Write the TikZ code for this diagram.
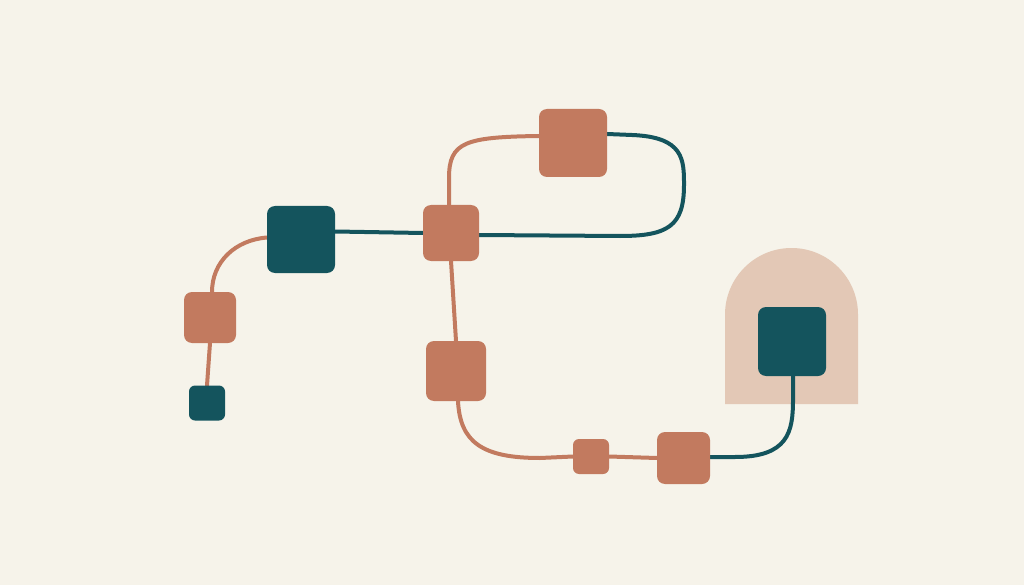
\documentclass[tikz,border=0pt]{standalone}
\usetikzlibrary{backgrounds}
\definecolor{bgc}{HTML}{F6F3EA}
\definecolor{terra}{HTML}{C27A5F}
\definecolor{tealc}{HTML}{14545D}
\definecolor{archc}{HTML}{E3C8B6}
\pgfdeclarelayer{back}
\pgfdeclarelayer{edges}
\pgfsetlayers{back,edges,main}
\tikzset{
  box/.style={rectangle, inner sep=0pt, outer sep=0pt, rounded corners=#1},
  obox/.style={box=8pt, fill=terra},
  tbox/.style={box=8pt, fill=tealc},
  ol/.style={draw=terra, line width=4pt, line cap=round},
  tl/.style={draw=tealc, line width=4pt, line cap=round},
}
\begin{document}
\begin{tikzpicture}[x=1pt,y=-1pt]
\begin{pgfonlayer}{back}
  \fill[bgc] (0,0) rectangle (1024,585);
  \fill[archc] (725,404) -- (725,314.5) .. controls (725,277.8) and (754.8,248) .. (791.5,248)
     .. controls (828.2,248) and (858,277.8) .. (858,314.5) -- (858,404) -- cycle;
\end{pgfonlayer}
\useasboundingbox (0,0) rectangle (1024,585);
% nodes
\node[tbox, box=6pt, minimum width=36pt, minimum height=35pt] (A) at (207,403) {};
\node[obox, minimum width=52pt, minimum height=51pt] (B) at (210,317.5) {};
\node[tbox, minimum width=68pt, minimum height=67pt] (C) at (301,239.5) {};
\node[obox, minimum width=56pt, minimum height=56pt] (D) at (451,233) {};
\node[obox, minimum width=60pt, minimum height=60pt] (E) at (456,371) {};
\node[obox, minimum width=68pt, minimum height=68pt] (F) at (573,143) {};
\node[obox, box=6pt, minimum width=36pt, minimum height=35pt] (G) at (591,456.5) {};
\node[obox, minimum width=53pt, minimum height=52pt] (H) at (683.5,458) {};
\node[tbox, minimum width=68pt, minimum height=69pt] (I) at (792,341.5) {};
% connectors
\begin{pgfonlayer}{edges}
  \draw[ol] (A.north) -- (B.south);
  \draw[ol] ([xshift=2pt]B.north) .. controls (212,262) and (235,240) .. ([yshift=2pt]C.west);
  \draw[tl] ([yshift=8pt]C.east) -- (D.west);
  \draw[ol] ([xshift=-2pt]D.north) -- (449,178) .. controls (449,142) and (465,137) .. ([yshift=7pt]F.west);
  \draw[tl] ([yshift=9pt]F.east) -- (632,135) .. controls (684,137) and (684,160) .. (684,185)
     .. controls (684,226) and (668,236) .. (620,236) -- ([yshift=-2pt]D.east);
  \draw[ol] (D.south) -- (E.north);
  \draw[ol] ([xshift=2pt]E.south) .. controls (460,442) and (482,458) .. (540,458) -- (G.west);
  \draw[ol] (G.east) -- (H.west);
  \draw[tl] ([yshift=1pt]H.east) -- (735,457) .. controls (788,457) and (793,432) .. (793,400) -- ([xshift=1pt]I.south);
\end{pgfonlayer}
\end{tikzpicture}
\end{document}
